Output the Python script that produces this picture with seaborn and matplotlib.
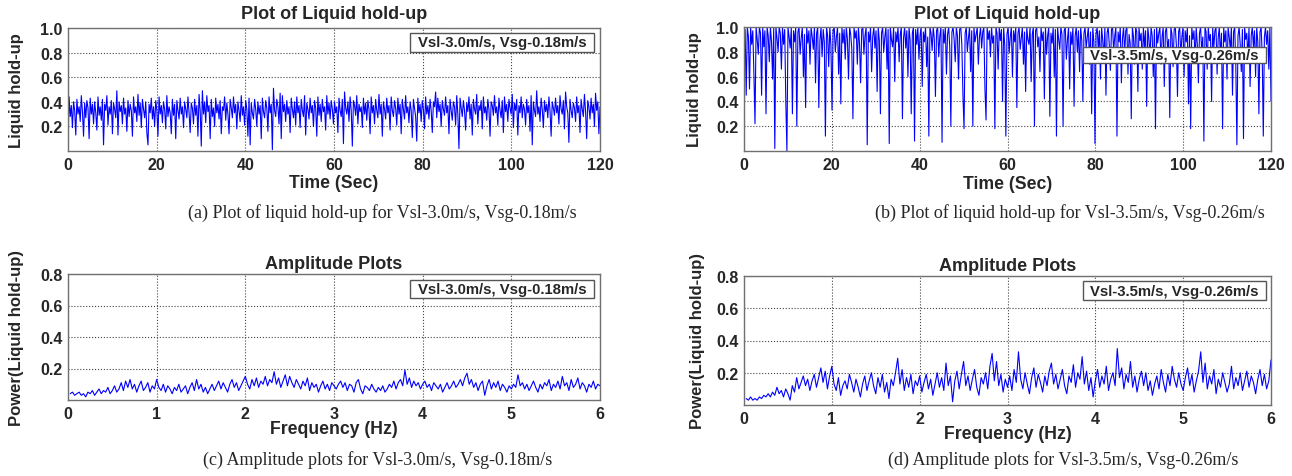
import numpy as np
import pandas as pd
import matplotlib
matplotlib.use("Agg")
import matplotlib.pyplot as plt
import seaborn as sns
from matplotlib.patches import Rectangle

# ---------------- data ----------------
holdup_a = [
    0.06, 0.44, 0.28, 0.37, 0.19, 0.40, 0.33, 0.13, 0.42, 0.30, 0.36, 0.24, 0.45, 0.32, 0.12, 0.39, 0.27, 0.41, 0.35, 0.10, 0.43, 0.30, 0.38, 0.22,
    0.40, 0.31, 0.17, 0.44, 0.29, 0.36, 0.25, 0.42, 0.05, 0.38, 0.33, 0.45, 0.21, 0.36, 0.30, 0.41, 0.14, 0.39, 0.34, 0.27, 0.49, 0.13, 0.40, 0.32,
    0.37, 0.22, 0.43, 0.30, 0.35, 0.16, 0.41, 0.28, 0.38, 0.33, 0.12, 0.44, 0.31, 0.36, 0.24, 0.46, 0.29, 0.39, 0.19, 0.42, 0.34, 0.27, 0.40, 0.15,
    0.05, 0.38, 0.31, 0.43, 0.26, 0.36, 0.20, 0.41, 0.33, 0.12, 0.44, 0.30, 0.37, 0.23, 0.40, 0.34, 0.18, 0.45, 0.28, 0.36, 0.31, 0.14, 0.42, 0.29,
    0.38, 0.10, 0.41, 0.33, 0.26, 0.43, 0.30, 0.36, 0.19, 0.40, 0.34, 0.27, 0.44, 0.31, 0.15, 0.39, 0.35, 0.22, 0.42, 0.29, 0.37, 0.12, 0.46, 0.33,
    0.04, 0.49, 0.30, 0.40, 0.23, 0.45, 0.32, 0.37, 0.10, 0.42, 0.28, 0.35, 0.20, 0.43, 0.31, 0.38, 0.26, 0.41, 0.14, 0.36, 0.33, 0.44, 0.25, 0.39,
    0.30, 0.14, 0.42, 0.35, 0.27, 0.44, 0.31, 0.38, 0.18, 0.40, 0.33, 0.24, 0.45, 0.29, 0.36, 0.21, 0.41, 0.34, 0.12, 0.43, 0.05, 0.39, 0.31, 0.26,
    0.42, 0.34, 0.20, 0.40, 0.30, 0.37, 0.10, 0.43, 0.32, 0.27, 0.41, 0.35, 0.16, 0.44, 0.31, 0.38, 0.01, 0.51, 0.33, 0.28, 0.42, 0.36, 0.22, 0.47,
    0.10, 0.45, 0.32, 0.38, 0.24, 0.41, 0.30, 0.36, 0.15, 0.43, 0.34, 0.27, 0.40, 0.21, 0.44, 0.31, 0.37, 0.19, 0.42, 0.33, 0.28, 0.45, 0.13, 0.39,
    0.34, 0.26, 0.43, 0.31, 0.37, 0.20, 0.41, 0.35, 0.12, 0.44, 0.29, 0.38, 0.24, 0.42, 0.32, 0.36, 0.17, 0.45, 0.30, 0.39, 0.26, 0.41, 0.34, 0.22,
    0.40, 0.31, 0.36, 0.15, 0.43, 0.33, 0.28, 0.42, 0.06, 0.48, 0.35, 0.30, 0.40, 0.24, 0.44, 0.33, 0.04, 0.41, 0.37, 0.29, 0.45, 0.22, 0.38, 0.32,
    0.36, 0.19, 0.43, 0.30, 0.39, 0.25, 0.41, 0.34, 0.14, 0.44, 0.31, 0.37, 0.22, 0.42, 0.33, 0.27, 0.46, 0.30, 0.38, 0.12, 0.40, 0.34, 0.26, 0.43,
    0.31, 0.37, 0.17, 0.44, 0.33, 0.28, 0.41, 0.35, 0.21, 0.43, 0.30, 0.38, 0.14, 0.42, 0.34, 0.26, 0.45, 0.31, 0.36, 0.23, 0.40, 0.33, 0.11, 0.42,
    0.35, 0.28, 0.08, 0.43, 0.31, 0.38, 0.24, 0.41, 0.34, 0.18, 0.44, 0.30, 0.37, 0.26, 0.42, 0.33, 0.15, 0.40, 0.36, 0.48, 0.27, 0.43, 0.32, 0.38,
    0.20, 0.41, 0.34, 0.29, 0.44, 0.31, 0.37, 0.14, 0.42, 0.33, 0.25, 0.40, 0.36, 0.21, 0.45, 0.30, 0.02, 0.43, 0.35, 0.28, 0.41, 0.33, 0.17, 0.39,
    0.32, 0.44, 0.26, 0.38, 0.13, 0.42, 0.34, 0.30, 0.46, 0.22, 0.37, 0.33, 0.41, 0.18, 0.44, 0.31, 0.36, 0.25, 0.42, 0.34, 0.12, 0.40, 0.37, 0.29,
    0.45, 0.31, 0.36, 0.21, 0.43, 0.33, 0.27, 0.41, 0.15, 0.44, 0.32, 0.38, 0.24, 0.42, 0.35, 0.30, 0.46, 0.19, 0.39, 0.33, 0.42, 0.13, 0.37, 0.31,
    0.44, 0.27, 0.38, 0.34, 0.21, 0.42, 0.31, 0.37, 0.16, 0.45, 0.05, 0.40, 0.33, 0.28, 0.49, 0.30, 0.36, 0.24, 0.43, 0.34, 0.19, 0.41, 0.32, 0.38,
    0.27, 0.44, 0.33, 0.12, 0.40, 0.35, 0.29, 0.43, 0.31, 0.37, 0.22, 0.45, 0.34, 0.30, 0.41, 0.18, 0.48, 0.36, 0.31, 0.07, 0.42, 0.33, 0.27, 0.39,
    0.35, 0.24, 0.44, 0.31, 0.37, 0.15, 0.42, 0.34, 0.28, 0.46, 0.32, 0.10, 0.41, 0.36, 0.26, 0.43, 0.31, 0.38, 0.20, 0.47, 0.33, 0.40, 0.14, 0.36,
]

holdup_b = [
    0.70, 0.98, 0.45, 1.00, 0.92, 0.50, 1.00, 0.86, 0.97, 0.62, 0.22, 1.00, 0.90, 0.78, 1.00, 0.95, 0.45, 1.00, 0.84, 0.97, 0.30, 1.00, 0.93, 0.72,
    1.00, 0.88, 0.58, 0.99, 0.02, 1.00, 0.91, 0.80, 1.00, 0.95, 0.66, 1.00, 0.86, 0.98, 0.40, 0.00, 1.00, 0.92, 0.83, 1.00, 0.30, 0.97, 0.88, 1.00,
    0.20, 0.96, 1.00, 0.78, 0.91, 1.00, 0.60, 0.94, 0.35, 1.00, 0.87, 0.97, 0.70, 1.00, 0.92, 0.82, 1.00, 0.55, 0.95, 1.00, 0.35, 0.89, 1.00, 0.76,
    0.98, 0.88, 0.12, 1.00, 0.93, 0.68, 1.00, 0.85, 0.33, 0.97, 1.00, 0.80, 0.92, 1.00, 0.62, 0.95, 0.38, 1.00, 0.87, 0.98, 0.74, 1.00, 0.90, 0.58,
    1.00, 0.94, 0.82, 0.26, 1.00, 0.91, 0.97, 0.70, 1.00, 0.86, 0.55, 0.98, 1.00, 0.78, 0.93, 1.00, 0.05, 0.96, 0.88, 1.00, 0.64, 0.92, 1.00, 0.83,
    0.97, 0.48, 1.00, 0.89, 0.30, 0.95, 1.00, 0.80, 0.92, 1.00, 0.66, 0.98, 0.06, 1.00, 0.90, 0.84, 1.00, 0.56, 0.96, 0.88, 1.00, 0.72, 0.94, 1.00,
    0.26, 0.91, 1.00, 0.83, 0.97, 0.60, 1.00, 0.89, 0.30, 0.95, 1.00, 0.08, 0.98, 0.86, 1.00, 0.74, 0.93, 1.00, 0.52, 0.96, 0.88, 1.00, 0.68, 0.92,
    0.12, 1.00, 0.95, 0.81, 1.00, 0.90, 0.44, 0.97, 1.00, 0.76, 0.93, 1.00, 0.07, 0.98, 0.87, 1.00, 0.62, 0.94, 1.00, 0.84, 0.20, 0.96, 1.00, 0.90,
    0.72, 1.00, 0.93, 0.58, 0.98, 1.00, 0.86, 0.45, 0.18, 0.95, 1.00, 0.80, 0.91, 1.00, 0.64, 0.97, 0.20, 1.00, 0.88, 0.94, 1.00, 0.70, 0.92, 1.00,
    0.83, 0.96, 1.00, 0.50, 0.25, 1.00, 0.90, 0.97, 0.76, 1.00, 0.87, 0.93, 0.18, 1.00, 0.95, 0.66, 1.00, 0.89, 0.98, 0.40, 1.00, 0.85, 0.12, 0.94,
    1.00, 0.79, 0.92, 1.00, 0.60, 0.97, 0.88, 1.00, 0.35, 0.95, 1.00, 0.82, 0.91, 1.00, 0.70, 0.96, 0.48, 1.00, 0.90, 0.86, 1.00, 0.56, 0.94, 1.00,
    0.20, 0.97, 1.00, 0.84, 0.92, 0.64, 1.00, 0.89, 0.96, 0.42, 1.00, 0.78, 0.93, 1.00, 0.28, 0.95, 0.87, 1.00, 0.60, 0.98, 0.12, 1.00, 0.90, 0.82,
    1.00, 0.94, 0.20, 0.97, 1.00, 0.74, 0.90, 1.00, 0.50, 0.96, 0.86, 1.00, 0.36, 0.93, 1.00, 0.80, 0.97, 0.64, 1.00, 0.89, 0.40, 0.95, 1.00, 0.83,
    0.92, 1.00, 0.70, 0.96, 0.30, 1.00, 0.88, 0.06, 0.94, 1.00, 0.82, 0.97, 0.58, 1.00, 0.90, 0.74, 1.00, 0.45, 0.95, 1.00, 0.86, 0.65, 0.98, 1.00,
    0.80, 0.93, 1.00, 0.12, 0.96, 0.88, 1.00, 0.55, 0.91, 1.00, 0.78, 0.97, 1.00, 0.62, 0.94, 0.87, 0.26, 1.00, 0.92, 0.70, 1.00, 0.96, 0.48, 1.00,
    0.89, 0.95, 0.66, 1.00, 0.84, 0.97, 0.36, 1.00, 0.91, 0.75, 1.00, 0.93, 0.60, 0.98, 0.18, 1.00, 0.87, 0.95, 1.00, 0.70, 0.92, 1.00, 0.52, 0.96,
    1.00, 0.82, 0.90, 0.27, 1.00, 0.94, 0.68, 0.98, 1.00, 0.85, 0.44, 0.96, 1.00, 0.76, 0.92, 1.00, 0.60, 0.97, 0.88, 1.00, 0.38, 0.93, 0.18, 1.00,
    0.90, 0.97, 0.72, 1.00, 0.86, 0.55, 0.95, 1.00, 0.80, 0.92, 0.08, 1.00, 0.96, 0.66, 1.00, 0.89, 0.94, 0.40, 1.00, 0.83, 0.97, 1.00, 0.62, 0.91,
    1.00, 0.76, 0.95, 0.18, 1.00, 0.88, 0.97, 0.58, 1.00, 0.92, 0.82, 1.00, 0.45, 0.96, 1.00, 0.70, 0.05, 0.93, 1.00, 0.86, 0.64, 0.98, 0.10, 1.00,
    0.90, 0.95, 0.74, 1.00, 0.52, 0.93, 1.00, 0.84, 0.97, 0.60, 1.00, 0.88, 0.30, 0.96, 1.00, 0.78, 0.12, 0.92, 1.00, 0.86, 0.97, 0.66, 1.00, 0.40,
]

amp_c = [
    0.04, 0.05, 0.03, 0.04, 0.05, 0.03, 0.04, 0.02, 0.05, 0.04, 0.06, 0.03, 0.05, 0.07, 0.04, 0.06, 0.05, 0.08, 0.04, 0.06,
    0.09, 0.05, 0.07, 0.11, 0.06, 0.12, 0.08, 0.13, 0.07, 0.10, 0.05, 0.09, 0.12, 0.06, 0.08, 0.11, 0.05, 0.09, 0.07, 0.13,
    0.08, 0.06, 0.10, 0.05, 0.09, 0.07, 0.04, 0.08, 0.06, 0.10, 0.05, 0.07, 0.09, 0.04, 0.08, 0.11, 0.06, 0.13, 0.07, 0.10,
    0.05, 0.08, 0.04, 0.07, 0.10, 0.06, 0.09, 0.12, 0.07, 0.11, 0.08, 0.05, 0.10, 0.13, 0.08, 0.11, 0.06, 0.09, 0.12, 0.15,
    0.10, 0.07, 0.13, 0.09, 0.14, 0.08, 0.12, 0.10, 0.15, 0.09, 0.13, 0.11, 0.18, 0.10, 0.14, 0.08, 0.12, 0.16, 0.09, 0.15,
    0.11, 0.08, 0.13, 0.10, 0.07, 0.12, 0.09, 0.14, 0.06, 0.11, 0.08, 0.10, 0.05, 0.09, 0.12, 0.07, 0.10, 0.06, 0.11, 0.09,
    0.07, 0.10, 0.12, 0.08, 0.11, 0.06, 0.10, 0.09, 0.05, 0.11, 0.13, 0.07, 0.04, 0.09, 0.08, 0.06, 0.10, 0.07, 0.05, 0.08,
    0.06, 0.09, 0.05, 0.07, 0.10, 0.08, 0.12, 0.07, 0.11, 0.13, 0.09, 0.19, 0.10, 0.14, 0.08, 0.12, 0.09, 0.11, 0.07, 0.10,
    0.12, 0.08, 0.10, 0.06, 0.11, 0.09, 0.07, 0.10, 0.05, 0.08, 0.11, 0.07, 0.09, 0.12, 0.08, 0.10, 0.13, 0.09, 0.14, 0.17,
    0.10, 0.13, 0.08, 0.11, 0.06, 0.10, 0.12, 0.03, 0.09, 0.13, 0.07, 0.11, 0.08, 0.12, 0.06, 0.10, 0.08, 0.05, 0.09, 0.07,
    0.10, 0.08, 0.16, 0.09, 0.11, 0.07, 0.10, 0.06, 0.09, 0.12, 0.08, 0.05, 0.10, 0.07, 0.11, 0.09, 0.13, 0.06, 0.10, 0.08,
    0.12, 0.07, 0.15, 0.09, 0.11, 0.06, 0.13, 0.08, 0.10, 0.14, 0.07, 0.11, 0.09, 0.05, 0.10, 0.08, 0.12, 0.07, 0.10, 0.09,
]

amp_d = [
    0.04, 0.03, 0.05, 0.03, 0.04, 0.03, 0.05, 0.04, 0.06, 0.05, 0.07, 0.05, 0.08, 0.06, 0.11, 0.07, 0.09, 0.05, 0.10, 0.07,
    0.03, 0.12, 0.08, 0.17, 0.10, 0.14, 0.18, 0.12, 0.16, 0.09, 0.15, 0.19, 0.11, 0.17, 0.23, 0.14, 0.21, 0.10, 0.18, 0.24,
    0.13, 0.09, 0.17, 0.06, 0.12, 0.15, 0.10, 0.19, 0.14, 0.08, 0.16, 0.11, 0.05, 0.13, 0.18, 0.09, 0.15, 0.20, 0.12, 0.07,
    0.17, 0.11, 0.19, 0.08, 0.14, 0.04, 0.16, 0.12, 0.20, 0.29, 0.13, 0.22, 0.09, 0.17, 0.11, 0.19, 0.07, 0.15, 0.12, 0.18,
    0.08, 0.14, 0.19, 0.10, 0.16, 0.06, 0.13, 0.20, 0.11, 0.17, 0.09, 0.26, 0.12, 0.18, 0.02, 0.15, 0.21, 0.10, 0.19, 0.27,
    0.12, 0.18, 0.09, 0.16, 0.22, 0.11, 0.06, 0.17, 0.13, 0.20, 0.10, 0.24, 0.32, 0.15, 0.27, 0.12, 0.19, 0.08, 0.16, 0.11,
    0.18, 0.09, 0.22, 0.14, 0.33, 0.16, 0.10, 0.20, 0.13, 0.07, 0.17, 0.23, 0.11, 0.19, 0.14, 0.08, 0.18, 0.12, 0.21, 0.26,
    0.13, 0.19, 0.10, 0.16, 0.22, 0.12, 0.07, 0.18, 0.14, 0.25, 0.11, 0.20, 0.16, 0.30, 0.13, 0.21, 0.09, 0.17, 0.05, 0.15,
    0.22, 0.11, 0.18, 0.13, 0.24, 0.09, 0.16, 0.20, 0.12, 0.35, 0.17, 0.23, 0.10, 0.19, 0.14, 0.27, 0.11, 0.18, 0.08, 0.16,
    0.21, 0.12, 0.20, 0.09, 0.15, 0.06, 0.13, 0.18, 0.10, 0.22, 0.14, 0.08, 0.19, 0.12, 0.24, 0.16, 0.11, 0.20, 0.13, 0.09,
    0.17, 0.23, 0.12, 0.19, 0.08, 0.15, 0.21, 0.33, 0.14, 0.26, 0.10, 0.18, 0.13, 0.22, 0.07, 0.16, 0.11, 0.20, 0.14, 0.08,
    0.13, 0.24, 0.10, 0.17, 0.12, 0.20, 0.09, 0.15, 0.21, 0.11, 0.18, 0.14, 0.07, 0.16, 0.22, 0.12, 0.19, 0.10, 0.15, 0.28,
]

time_ticks = [0, 20, 40, 60, 80, 100, 120]
freq_ticks = [0, 1, 2, 3, 4, 5, 6]
holdup_yticks = [0.2, 0.4, 0.6, 0.8, 1.0]
amp_yticks = [0.2, 0.4, 0.6, 0.8]

title_holdup = "Plot of Liquid hold-up"
title_amp = "Amplitude Plots"
legend_a = "Vsl-3.0m/s, Vsg-0.18m/s"
legend_b = "Vsl-3.5m/s, Vsg-0.26m/s"
captions = [
    "(a) Plot of liquid hold-up for Vsl-3.0m/s, Vsg-0.18m/s",
    "(b) Plot of liquid hold-up for Vsl-3.5m/s, Vsg-0.26m/s",
    "(c) Amplitude plots for Vsl-3.0m/s, Vsg-0.18m/s",
    "(d) Amplitude plots for Vsl-3.5m/s, Vsg-0.26m/s",
]

# ---------------- figure ----------------
sns.set_style("white")
plt.rcParams['font.family'] = ['Liberation Sans', 'DejaVu Sans']

W, H = 1292, 477
fig = plt.figure(figsize=(W / 100, H / 100), dpi=100)


def px_axes(x0, x1, y0, y1):
    return fig.add_axes([x0 / W, 1 - y1 / H, (x1 - x0) / W, (y1 - y0) / H])


def panel(ax, x, y, xlim, ylim, xticks, yticks, xlabel, ylabel, title, title_y,
          legend, leg_box, xlab_y, ylab_x, xfmt, yfmt, lw):
    df = pd.DataFrame({"x": x, "y": y})
    sns.lineplot(data=df, x="x", y="y", ax=ax, color="#0000ff", lw=lw,
                 estimator=None, sort=False)
    ax.set_xlim(*xlim)
    ax.set_ylim(*ylim)
    ax.set_xticks(xticks)
    ax.set_yticks(yticks)
    ax.set_xticklabels([xfmt(v) for v in xticks], fontsize=11.5, fontweight="bold")
    ax.set_yticklabels([yfmt(v) for v in yticks], fontsize=11.5, fontweight="bold")
    ax.tick_params(direction="in", length=3, width=0.6, color="#555555", pad=4)
    ax.grid(True, linestyle=":", color="#444444", linewidth=0.8)
    for s in ax.spines.values():
        s.set_color("#707070")
        s.set_linewidth(1.0)
    ax.set_xlabel(xlabel, fontsize=12.7, fontweight="bold")
    ax.set_ylabel(ylabel, fontsize=12, fontweight="bold")
    ax.xaxis.set_label_coords(0.5, xlab_y)
    ax.yaxis.set_label_coords(ylab_x, 0.5)
    ax.text(0.5, title_y, title, transform=ax.transAxes, ha="center", va="center",
            fontsize=13, fontweight="bold")
    bx0, by0, bx1, by1 = leg_box
    ax.add_patch(Rectangle((bx0, by0), bx1 - bx0, by1 - by0, transform=ax.transAxes,
                           facecolor="white", edgecolor="#555555", lw=1.0, zorder=5))
    ax.text((bx0 + bx1) / 2, (by0 + by1) / 2, legend, transform=ax.transAxes,
            ha="center", va="center", fontsize=10.7, fontweight="bold", zorder=6)


ifmt = lambda v: f"{v:d}"
ffmt = lambda v: f"{v:.1f}"

ax_a = px_axes(68, 600, 29, 152)
panel(ax_a, np.linspace(0, 120, len(holdup_a)), holdup_a, (0, 120), (0, 1.0),
      time_ticks, holdup_yticks, "Time (Sec)", "Liquid hold-up", title_holdup, 1.115,
      legend_a, (0.643, 0.805, 0.989, 0.96), -0.19, -0.083, ifmt, ffmt, 0.8)

ax_b = px_axes(744, 1271, 28, 152)
panel(ax_b, np.linspace(0, 120, len(holdup_b)), holdup_b, (0, 120), (0, 1.0),
      time_ticks, holdup_yticks, "Time (Sec)", "Liquid hold-up", title_holdup, 1.108,
      legend_b, (0.643, 0.71, 0.99, 0.84), -0.19, -0.080, ifmt, ffmt, 0.8)

ax_c = px_axes(68, 600, 275, 401)
panel(ax_c, np.linspace(0.025, 6.0, len(amp_c)), amp_c, (0, 6), (0, 0.8),
      freq_ticks, amp_yticks, "Frequency (Hz)", "Power(Liquid hold-up)", title_amp, 1.085,
      legend_a, (0.643, 0.807, 0.989, 0.955), -0.16, -0.083, ifmt, ffmt, 0.8)

ax_d = px_axes(744, 1271, 277, 406)
panel(ax_d, np.linspace(0.025, 6.0, len(amp_d)), amp_d, (0, 6), (0, 0.8),
      freq_ticks, amp_yticks, "Frequency (Hz)", "Power(Liquid hold-up)", title_amp, 1.083,
      legend_b, (0.643, 0.814, 0.99, 0.959), -0.155, -0.074, ifmt, ffmt, 0.8)

cap_pos = [(382, 213), (1070, 213), (378, 460), (1063, 460)]
for (cx, cy), txt in zip(cap_pos, captions):
    fig.text(cx / W, 1 - cy / H, txt, ha="center", va="center", fontsize=13,
             family=["Liberation Serif", "DejaVu Serif"])

fig.savefig("out.png", dpi=100)
